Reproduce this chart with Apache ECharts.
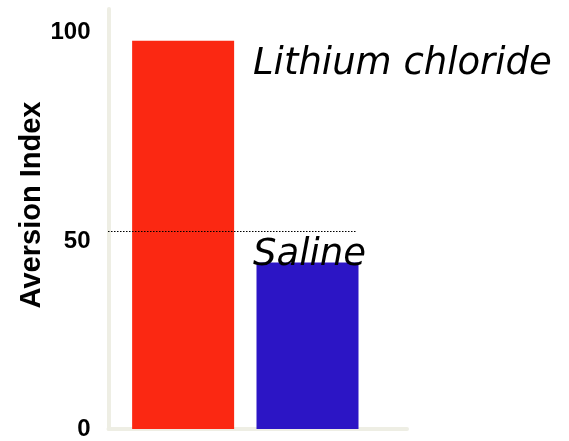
<!DOCTYPE html>
<html>
<head>
<meta charset="utf-8">
<script src="https://cdn.jsdelivr.net/npm/echarts@6/dist/echarts.min.js"></script>
<style>html,body{margin:0;padding:0;background:#fff}#c{width:569px;height:441px}</style>
</head>
<body>
<div id="c"></div>
<script>
const categories = ['Lithium chloride', 'Saline'];
const values = [98, 42];
const barColors = ['#fb2812', '#2c15c5'];
const yTicks = [0, 50, 100];
const referenceLevel = 50;
const yAxisTitle = 'Aversion Index';

const chart = echarts.init(document.getElementById('c'), null, {renderer: 'canvas'});
const option = {
  animation: false,
  backgroundColor: '#ffffff',
  grid: {left: 108.5, right: 162, top: 9, bottom: 7, containLabel: false},
  xAxis: {
    type: 'value', min: -0.6, max: 1.8,
    axisLine: {show: true, onZero: false, lineStyle: {color: '#eeeee4', width: 4}},
    axisTick: {show: false}, axisLabel: {show: false}, splitLine: {show: false}
  },
  yAxis: {
    type: 'value', min: 0, max: 106, interval: 50,
    name: yAxisTitle, nameLocation: 'middle', nameRotate: 90, nameGap: 62, nameMoveOverlap: false,
    nameTextStyle: {fontFamily: 'Liberation Sans', fontWeight: 'bold', fontSize: 29, color: '#000', padding: [0, 0, 0, 28]},
    axisLine: {show: true, onZero: false, lineStyle: {color: '#eeeee4', width: 4}},
    axisTick: {show: false}, splitLine: {show: false},
    axisLabel: {
      customValues: yTicks, margin: 18,
      fontFamily: 'Liberation Sans', fontWeight: 'bold', fontSize: 24, color: '#000',
      formatter: v => v === 50 ? '{m|50}' : String(v),
      rich: {m: {fontFamily: 'Liberation Sans', fontWeight: 'bold', fontSize: 24, color: '#000', padding: [20, 0, 0, 0]}}
    }
  },
  series: [{
    type: 'bar', barWidth: 102,
    data: values.map((v, i) => ({value: [i, v], itemStyle: {color: barColors[i]}})),
    markLine: {
      silent: true, symbol: ['none', 'none'], label: {show: false},
      lineStyle: {color: '#000', width: 1.2, type: [1.5, 1.5]},
      data: [[{x: 108, yAxis: referenceLevel}, {x: 357, yAxis: referenceLevel}]]
    }
  }],
  graphic: [
    {type: 'text', z: 100, x: 253, y: 64, style: {text: categories[0], font: 'italic 37px "DejaVu Sans"', fill: '#000', verticalAlign: 'middle'}},
    {type: 'text', z: 100, x: 253, y: 255, style: {text: categories[1], font: 'italic 37px "DejaVu Sans"', fill: '#000', verticalAlign: 'middle'}}
  ]
};
chart.setOption(option);
</script>
</body>
</html>
